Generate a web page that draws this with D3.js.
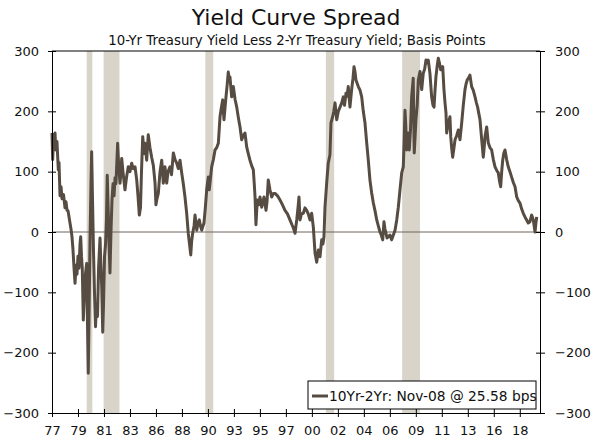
<!DOCTYPE html>
<html>
<head>
<meta charset="utf-8">
<script src="https://cdn.jsdelivr.net/npm/d3@7"></script>
<style>
  body { margin: 0; background: #fff; }
  svg text { font-family: "DejaVu Sans", Verdana, sans-serif; }
</style>
</head>
<body>
<svg id="chart" width="600" height="445"></svg>
<script>
// 10yr - 2yr spread, basis points (decimal years)
const spreadDates = [
  1976.93,1976.99,1977.06,1977.20,1977.26,1977.37,1977.42,1977.49,1977.55,1977.64,1977.73,1977.82,1977.95,
  1978.08,1978.17,1978.26,1978.35,1978.48,1978.61,1978.70,1978.79,1978.88,1978.97,
  1979.05,1979.14,1979.23,1979.32,1979.41,1979.47,1979.54,1979.61,1979.70,1979.81,1979.89,
  1980.00,1980.07,1980.14,1980.20,1980.29,1980.38,1980.44,1980.51,1980.60,1980.69,1980.78,1980.87,1980.96,
  1981.05,1981.18,1981.25,1981.33,1981.42,1981.49,1981.58,1981.67,1981.75,1981.82,1981.90,1981.98,
  1982.06,1982.15,1982.24,1982.33,1982.42,1982.51,1982.59,1982.74,1982.83,1982.95,
  1983.04,1983.10,1983.21,1983.39,1983.52,1983.68,1983.83,1983.98,
  1984.12,1984.28,1984.43,1984.54,1984.66,1984.76,1984.85,1984.96,
  1985.07,1985.16,1985.31,1985.45,1985.60,1985.75,1985.90,
  1986.05,1986.13,1986.22,1986.34,1986.49,1986.64,1986.78,1986.93,
  1987.08,1987.20,1987.37,1987.51,1987.67,1987.82,1987.97,
  1988.11,1988.26,1988.41,1988.55,1988.70,1988.85,1988.99,
  1989.10,1989.21,1989.29,1989.38,1989.50,1989.59,1989.74,1989.85,1989.97,
  1990.07,1990.18,1990.29,1990.38,1990.50,1990.62,1990.76,1990.85,1990.96,
  1991.06,1991.21,1991.36,1991.51,1991.65,1991.73,1991.80,1991.91,
  1992.04,1992.15,1992.24,1992.33,1992.44,1992.53,1992.61,1992.68,1992.83,1992.98,
  1993.13,1993.28,1993.42,1993.57,1993.72,1993.86,
  1994.01,1994.16,1994.30,1994.45,1994.60,1994.75,1994.83,1994.90,1994.98,
  1995.10,1995.21,1995.34,1995.49,1995.60,1995.69,1995.87,1995.96,
  1996.07,1996.22,1996.37,1996.52,1996.67,1996.89,
  1997.11,1997.33,1997.55,1997.77,1997.99,
  1998.17,1998.29,1998.44,1998.59,1998.70,1998.79,1998.88,
  1999.01,1999.17,1999.32,1999.47,1999.61,1999.76,1999.91,
  2000.06,2000.14,2000.21,2000.36,2000.50,2000.65,2000.80,2000.91,
  2001.00,2001.09,2001.24,2001.38,2001.53,2001.62,2001.77,2001.87,2001.98,
  2002.13,2002.27,2002.42,2002.57,2002.71,2002.82,2002.95,
  2003.04,2003.15,2003.30,2003.45,2003.57,2003.66,2003.75,2003.83,
  2004.04,2004.19,2004.34,2004.48,2004.63,2004.78,2004.92,
  2005.07,2005.22,2005.37,2005.52,2005.67,2005.81,2005.96,
  2006.07,2006.20,2006.31,2006.40,2006.49,2006.58,2006.69,2006.84,2006.99,
  2007.14,2007.29,2007.44,2007.58,2007.73,2007.88,
  2008.02,2008.10,2008.17,2008.23,2008.32,2008.39,2008.46,2008.55,2008.66,2008.76,2008.90,2008.99,
  2009.07,2009.14,2009.25,2009.35,2009.50,2009.65,2009.72,2009.79,2009.91,
  2010.03,2010.14,2010.23,2010.38,2010.53,2010.65,2010.74,2010.83,2010.91,
  2011.02,2011.12,2011.22,2011.33,2011.51,2011.62,2011.71,2011.80,2011.86,
  2012.00,2012.15,2012.22,2012.30,2012.39,2012.51,2012.60,2012.75,2012.89,
  2013.04,2013.19,2013.33,2013.48,2013.57,2013.68,2013.79,2013.92,
  2014.07,2014.21,2014.37,2014.48,2014.60,2014.72,2014.81,2014.96,
  2015.10,2015.18,2015.25,2015.40,2015.54,2015.69,2015.84,2015.99,
  2016.14,2016.29,2016.43,2016.53,2016.64,2016.73,2016.82,2016.91,
  2017.02,2017.17,2017.31,2017.46,2017.61,2017.76,2017.91,
  2018.06,2018.20,2018.35,2018.50,2018.64,2018.79,2018.94,
  2019.08,2019.23,2019.38,2019.53,2019.68,2019.76,2019.83
];
const spreadBps = [
  164,120,150,164,136,150,130,103,115,60,75,55,62,
  40,50,36,35,20,5,-8,-30,-60,-85,
  -55,-70,-40,-60,-20,-8,-40,-60,-146,-100,-70,
  -52,-150,-234,-150,-20,80,133,60,-30,-100,-157,-120,-140,
  -60,-10,-50,-91,-166,-120,-40,-20,20,94,40,-20,
  -68,0,53,80,60,90,80,147,110,81,
  100,122,100,70,90,108,100,114,
  105,108,86,60,28,40,100,158,
  130,147,119,161,140,124,110,
  81,45,55,64,100,119,81,108,
  81,100,108,95,131,120,114,
  105,119,98,80,58,31,-2,
  -20,-38,-15,-2,10,28,3,15,20,
  10,3,10,15,40,70,91,70,90,
  108,120,136,140,147,170,191,205,
  219,186,205,224,245,265,255,257,224,241,
  220,207,190,174,153,160,
  164,141,130,119,110,103,80,58,12,
  53,45,58,41,50,58,36,50,
  86,70,58,64,64,60,
  53,45,36,30,20,
  12,7,-2,20,40,58,20,
  30,31,40,36,30,20,31,
  8,-15,-35,-50,-30,-41,-13,-20,
  -8,41,81,114,128,181,191,200,214,
  186,200,207,214,224,210,230,
  225,241,207,236,255,274,265,252,
  241,235,224,200,181,148,120,
  86,65,48,35,20,10,0,
  -5,-13,17,5,-2,-10,-8,-5,-13,
  -5,3,20,41,70,98,
  108,153,202,180,136,150,164,136,170,224,255,131,
  160,186,210,252,266,236,250,263,270,
  285,280,285,263,224,210,207,235,257,
  275,288,280,269,274,236,215,197,164,
  180,191,158,140,124,140,153,160,169,
  153,181,210,236,245,252,255,260,
  241,235,224,215,207,195,186,153,
  124,140,158,174,148,140,136,120,
  108,102,98,85,75,100,119,130,
  136,120,108,100,91,82,75,
  58,52,48,38,31,25,20,
  15,17,28,20,0,15,25
];

// recessions (shaded)
const recessionStart = [1980.00, 1981.50, 1990.50, 2001.17, 2007.92];
const recessionEnd   = [1980.50, 1982.90, 1991.20, 2001.90, 2009.50];

const yTicks = [-300, -200, -100, 0, 100, 200, 300];
const xTickLabels = ['77','79','81','83','86','88','90','93','95','97',
                     '00','02','04','06','09','11','13','16','18'];
const xStart = 1976.93, xEnd = 2020.12, xTickStep = 2.3;

const legendText = '10Yr-2Yr: Nov-08 @ 25.58 bps';

const W = 600, H = 445;
const margin = {top: 51, right: 60, bottom: 32, left: 52};
const LINE = '#574c42', SHADE = '#d8d4ca', FS = 13;

const svg = d3.select('#chart');

const x = d3.scaleLinear().domain([xStart, xEnd]).range([margin.left, W - margin.right]);
const y = d3.scaleLinear().domain([-300, 300]).range([H - margin.bottom, margin.top]);

// titles
svg.append('text')
  .attr('x', 296).attr('y', 25)
  .attr('text-anchor', 'middle')
  .style('font-size', '22px').attr('fill', '#111')
  .text('Yield Curve Spread');
svg.append('text')
  .attr('x', 297).attr('y', 44.5)
  .attr('text-anchor', 'middle')
  .style('font-size', '13.3px').attr('fill', '#111')
  .text('10-Yr Treasury Yield Less 2-Yr Treasury Yield; Basis Points');

// recession bars
svg.append('g').selectAll('rect')
  .data(recessionStart)
  .enter().append('rect')
    .attr('x', d => x(d))
    .attr('width', (d, i) => x(recessionEnd[i]) - x(d))
    .attr('y', y(300))
    .attr('height', y(-300) - y(300))
    .attr('fill', SHADE);

// zero line
svg.append('line')
  .attr('x1', x(xStart)).attr('x2', x(xEnd))
  .attr('y1', y(0)).attr('y2', y(0))
  .attr('stroke', '#6f655c').attr('stroke-width', 1);

// the spread
const pts = spreadDates.map((d, i) => [d, spreadBps[i]]);
svg.append('path')
  .datum(pts)
  .attr('fill', 'none')
  .attr('stroke', LINE)
  .attr('stroke-width', 3)
  .attr('stroke-linejoin', 'round')
  .attr('d', d3.line().x(d => x(d[0])).y(d => y(d[1])));

// axes (ticks cross the axis line)
function styleAxis(g) {
  g.selectAll('text').style('font-size', FS + 'px').attr('fill', '#111');
  g.selectAll('line').attr('stroke', '#000');
  g.select('.domain').attr('stroke', '#000');
}

svg.append('g')
  .attr('transform', `translate(${margin.left},0)`)
  .call(d3.axisLeft(y).tickValues(yTicks).tickSize(4).tickSizeOuter(0).tickPadding(9))
  .call(styleAxis)
  .call(g => g.selectAll('.tick line').attr('x1', 4));

svg.append('g')
  .attr('transform', `translate(${W - margin.right},0)`)
  .call(d3.axisRight(y).tickValues(yTicks).tickSize(5).tickSizeOuter(0).tickPadding(10))
  .call(styleAxis)
  .call(g => g.selectAll('.tick line').attr('x1', -4));

const xTicks = xTickLabels.map((t, i) => xStart + i * xTickStep);
svg.append('g')
  .attr('transform', `translate(0,${H - margin.bottom})`)
  .call(d3.axisBottom(x).tickValues(xTicks).tickFormat((d, i) => xTickLabels[i])
        .tickSize(4).tickSizeOuter(0).tickPadding(9))
  .call(styleAxis)
  .call(g => g.selectAll('.tick line').attr('y1', -4));

// top border
svg.append('line')
  .attr('x1', x(xStart)).attr('x2', x(xEnd))
  .attr('y1', y(300)).attr('y2', y(300))
  .attr('stroke', '#000');

// legend
const leg = svg.append('g').attr('transform', 'translate(308,381)');
leg.append('rect')
  .attr('width', 228).attr('height', 28)
  .attr('fill', '#fff').attr('stroke', '#000').attr('stroke-width', 1);
leg.append('line')
  .attr('x1', 4).attr('x2', 20).attr('y1', 15).attr('y2', 15)
  .attr('stroke', LINE).attr('stroke-width', 3);
leg.append('text')
  .attr('x', 21).attr('y', 20)
  .style('font-size', '13.8px').attr('fill', '#111')
  .text(legendText);
</script>
</body>
</html>
